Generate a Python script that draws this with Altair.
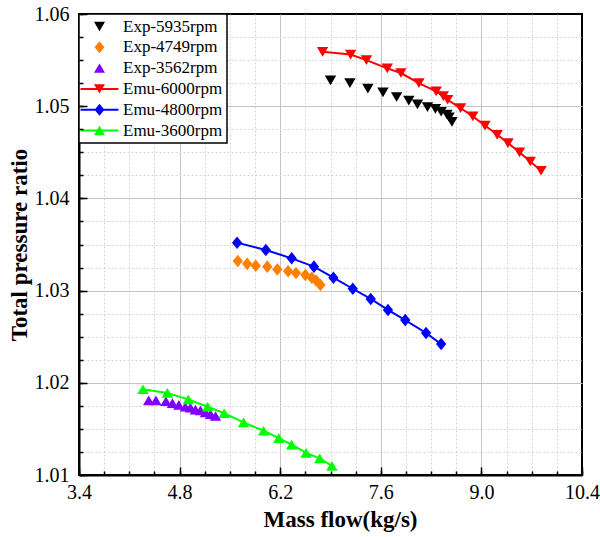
import altair as alt
import pandas as pd

# ---------------- data ----------------
series_names = ["Exp-5935rpm", "Exp-4749rpm", "Exp-3562rpm",
                "Emu-6000rpm", "Emu-4800rpm", "Emu-3600rpm"]
series_colors = ["#000000", "#FF8000", "#8000FF", "#FF0000", "#0000FF", "#00FF00"]
emu_names = ["Emu-6000rpm", "Emu-4800rpm", "Emu-3600rpm"]

exp5935_flow = [6.90, 7.17, 7.42, 7.63, 7.82, 7.99, 8.11, 8.25, 8.36, 8.44, 8.52, 8.55, 8.59]
exp5935_ratio = [1.0528, 1.0525, 1.0519, 1.0515, 1.0510, 1.0506, 1.0502, 1.0499, 1.0497,
                 1.0494, 1.0491, 1.0488, 1.0483]

exp4749_flow = [5.61, 5.74, 5.86, 6.02, 6.16, 6.31, 6.42, 6.55, 6.64, 6.70, 6.76]
exp4749_ratio = [1.0332, 1.0329, 1.0327, 1.0326, 1.0323, 1.0321, 1.0319, 1.0317, 1.0314,
                 1.0311, 1.0306]

exp3562_flow = [4.37, 4.47, 4.61, 4.70, 4.79, 4.88, 4.95, 5.02, 5.09, 5.16, 5.23, 5.30]
exp3562_ratio = [1.0181, 1.0181, 1.0180, 1.0178, 1.0176, 1.0174, 1.0173, 1.0171, 1.0170,
                 1.0168, 1.0166, 1.0164]

emu6000_flow = [6.79, 7.18, 7.40, 7.69, 7.88, 8.13, 8.37, 8.47, 8.53, 8.71, 8.88, 9.05,
                9.22, 9.37, 9.53, 9.68, 9.83]
emu6000_ratio = [1.0559, 1.0556, 1.0550, 1.0541, 1.0536, 1.0525, 1.0516, 1.0511, 1.0507,
                 1.0498, 1.0489, 1.0479, 1.0469, 1.0460, 1.0450, 1.0440, 1.0430]

emu4800_flow = [5.60, 6.00, 6.36, 6.67, 6.94, 7.21, 7.46, 7.70, 7.94, 8.23, 8.44]
emu4800_ratio = [1.0352, 1.0344, 1.0335, 1.0326, 1.0314, 1.0302, 1.0291, 1.0279, 1.0268,
                 1.0254, 1.0242]

emu3600_flow = [4.29, 4.63, 4.92, 5.19, 5.42, 5.69, 5.97, 6.18, 6.36, 6.56, 6.75, 6.92]
emu3600_ratio = [1.0193, 1.0189, 1.0182, 1.0174, 1.0167, 1.0157, 1.0148, 1.0140, 1.0133,
                 1.0124, 1.0118, 1.0110]

x_ticks = [3.4, 3.75, 4.1, 4.45, 4.8, 5.15, 5.5, 5.85, 6.2, 6.55, 6.9, 7.25, 7.6, 7.95,
           8.3, 8.65, 9.0, 9.35, 9.7, 10.05, 10.4]
x_major = [3.4, 4.8, 6.2, 7.6, 9.0, 10.4]
y_ticks = [1.01, 1.0125, 1.015, 1.0175, 1.02, 1.0225, 1.025, 1.0275, 1.03, 1.0325, 1.035,
           1.0375, 1.04, 1.0425, 1.045, 1.0475, 1.05, 1.0525, 1.055, 1.0575, 1.06]
y_major = [1.01, 1.02, 1.03, 1.04, 1.05, 1.06]

# ---------------- table ----------------
rows = []
for name, fl, ra in [
    ("Exp-5935rpm", exp5935_flow, exp5935_ratio),
    ("Exp-4749rpm", exp4749_flow, exp4749_ratio),
    ("Exp-3562rpm", exp3562_flow, exp3562_ratio),
    ("Emu-6000rpm", emu6000_flow, emu6000_ratio),
    ("Emu-4800rpm", emu4800_flow, emu4800_ratio),
    ("Emu-3600rpm", emu3600_flow, emu3600_ratio),
]:
    for a, b in zip(fl, ra):
        rows.append({"series": name, "flow": a, "ratio": b})
df = pd.DataFrame(rows)

# ---------------- marker shapes ----------------
TRI_DOWN = "M-1,-0.85L1,-0.85L0,0.85Z"
DIAMOND = "M0,-1.1L0.9,0L0,1.1L-0.9,0Z"
TRI_UP = "M-1,0.85L0,-0.85L1,0.85Z"
LINE = "M-3.45,-0.18L3.45,-0.18L3.45,0.18L-3.45,0.18Z"
marker_paths = [TRI_DOWN, DIAMOND, TRI_UP, TRI_DOWN, DIAMOND, TRI_UP]
legend_paths = [TRI_DOWN, DIAMOND, TRI_UP, LINE + TRI_DOWN, LINE + DIAMOND, LINE + TRI_UP]

FONT = "Liberation Serif"

x_major_test = "abs((datum.value - 3.4) / 1.4 - round((datum.value - 3.4) / 1.4)) < 0.01"
y_major_test = "abs(datum.value * 100 - round(datum.value * 100)) < 0.01"
x_end_test = "datum.value < 3.41 || datum.value > 10.39"
y_end_test = "datum.value < 1.0101 || datum.value > 1.0599"

axis_main_x = alt.Axis(
    orient="bottom", values=x_ticks, ticks=False, domain=True, domainColor="black",
    domainWidth=2, labelExpr=f"({x_major_test}) ? format(datum.value, '.1f') : ''",
    labelFont=FONT, labelFontSize=20, labelColor="black", labelPadding=7,
    labelOverlap=False, labelFlush=False,
    grid=True,
    gridColor={"condition": {"test": x_major_test, "value": "#C4C4C4"}, "value": "#D6D6D6"},
    gridDash={"condition": {"test": x_major_test, "value": []}, "value": [2, 2]},
    gridOpacity={"condition": {"test": x_end_test, "value": 0}, "value": 1},
    gridWidth=1,
    title="Mass flow(kg/s)", titleFont=FONT, titleFontSize=23, titleFontWeight="bold",
    titleColor="black", titlePadding=6, titleX=261, zindex=0,
)
axis_main_y = alt.Axis(
    orient="left", values=y_ticks, ticks=False, domain=True, domainColor="black",
    domainWidth=2, labelExpr=f"({y_major_test}) ? format(datum.value, '.2f') : ''",
    labelFont=FONT, labelFontSize=20, labelColor="black", labelPadding=10,
    labelOverlap=False, labelFlush=False,
    grid=True,
    gridColor={"condition": {"test": y_major_test, "value": "#C4C4C4"}, "value": "#D6D6D6"},
    gridDash={"condition": {"test": y_major_test, "value": []}, "value": [2, 2]},
    gridOpacity={"condition": {"test": y_end_test, "value": 0}, "value": 1},
    gridWidth=1,
    title="Total pressure ratio", titleFont=FONT, titleFontSize=23, titleFontWeight="bold",
    titleColor="black", titlePadding=3, zindex=0,
)


def tick_axis(orient, values, size):
    return alt.Axis(orient=orient, values=values, ticks=True, tickSize=size, offset=-size,
                    tickColor="black", tickWidth=1.5, labels=False, domain=False,
                    grid=False, title=None, zindex=2)


x_scale = alt.Scale(domain=[3.4, 10.4], nice=False, zero=False)
y_scale = alt.Scale(domain=[1.01, 1.06], nice=False, zero=False)
color_scale = alt.Scale(domain=series_names, range=series_colors)

leg = alt.Legend(
    orient="none", legendX=0, legendY=0, title=None, padding=4, rowPadding=2.8,
    symbolSize=121, symbolStrokeWidth=0, symbolOffset=8, symbolOpacity=1,
    labelOffset=15, labelFont=FONT, labelFontSize=17, labelColor="black", labelLimit=300,
    strokeColor="black", fillColor="white",
)

base = alt.Chart(df)

lines = base.transform_filter(
    alt.FieldOneOfPredicate(field="series", oneOf=emu_names)
).mark_line(strokeWidth=2).encode(
    x=alt.X("flow:Q", scale=x_scale, axis=axis_main_x),
    y=alt.Y("ratio:Q", scale=y_scale, axis=axis_main_y),
    color=alt.Color("series:N", scale=color_scale, legend=None),
)

points = base.mark_point(filled=True, opacity=1, size=130).encode(
    x=alt.X("flow:Q", scale=x_scale, axis=tick_axis("bottom", x_major, 8)),
    y=alt.Y("ratio:Q", scale=y_scale, axis=tick_axis("left", y_major, 8)),
    color=alt.Color("series:N", scale=color_scale, legend=None),
    shape=alt.Shape("series:N", scale=alt.Scale(domain=series_names, range=marker_paths),
                    legend=None),
)

legend_layer = base.transform_filter("false").mark_point(filled=True, opacity=1, size=121).encode(
    x=alt.X("flow:Q", scale=x_scale, axis=tick_axis("bottom", x_ticks, 4)),
    y=alt.Y("ratio:Q", scale=y_scale, axis=tick_axis("left", y_ticks, 4)),
    color=alt.Color("series:N", scale=color_scale, legend=leg),
    shape=alt.Shape("series:N", scale=alt.Scale(domain=series_names, range=legend_paths),
                    legend=leg),
)

chart = alt.layer(lines, points, legend_layer).resolve_scale(
    color="independent", shape="independent"
).resolve_axis(
    x="independent", y="independent"
).properties(
    width=503, height=461,
    autosize=alt.AutoSizeParams(type="none"),
    padding={"left": 79, "top": 14, "right": 18, "bottom": 62},
).configure(
    font=FONT, background="white"
).configure_view(
    stroke="black", strokeWidth=2
).configure_legend(
    strokeWidth=1.5
)

chart.save("out.html", embed_options={"renderer": "svg", "actions": False})
